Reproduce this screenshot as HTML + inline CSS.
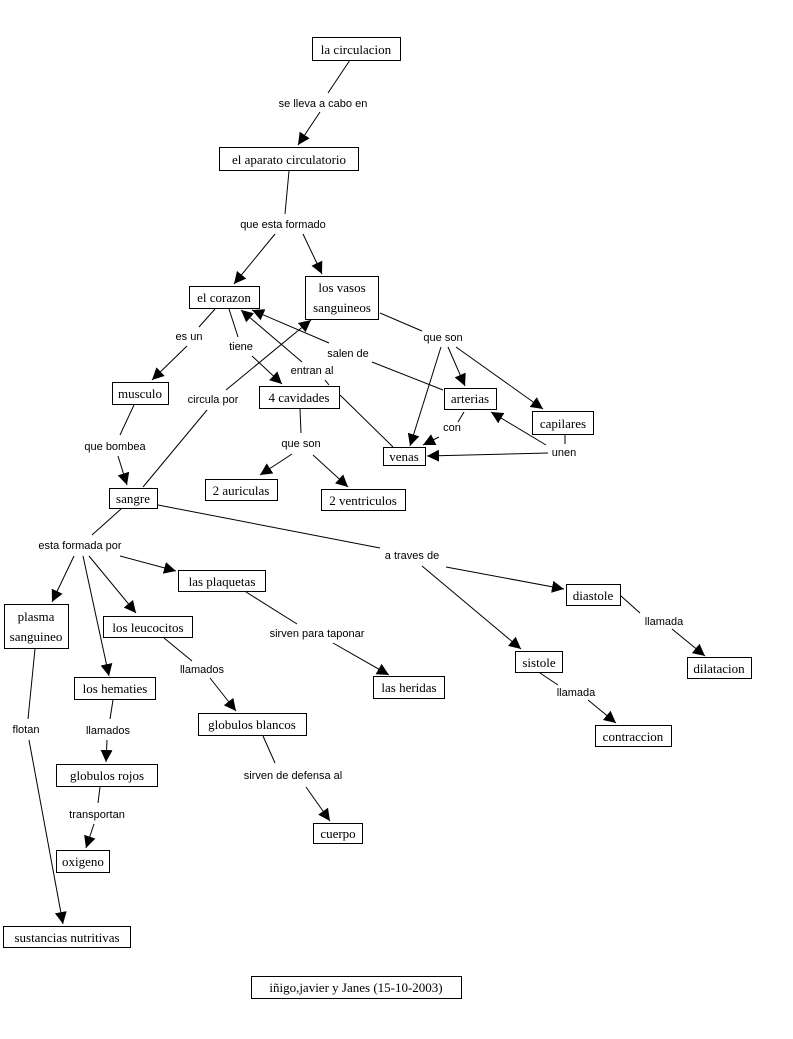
<!DOCTYPE html>
<html><head><meta charset="utf-8"><style>
html,body{margin:0;padding:0;background:#fff;}
svg{display:block;}
.b{fill:#fff;stroke:#000;stroke-width:1;}
.t{font-family:"Liberation Serif",serif;font-size:13px;fill:#000;}
.l{font-family:"Liberation Sans",sans-serif;font-size:11px;fill:#000;}
line{stroke:#000;stroke-width:1;}
</style></head><body>
<svg width="793" height="1039" viewBox="0 0 793 1039" xmlns="http://www.w3.org/2000/svg">
<defs><marker id="a" viewBox="0 0 10 10" refX="10" refY="5" markerWidth="12" markerHeight="12" markerUnits="userSpaceOnUse" orient="auto"><path d="M0,0L10,5L0,10z" fill="#000"/></marker></defs>
<g>
<line x1="350" y1="60" x2="328" y2="93"/><line x1="320" y1="112" x2="298" y2="145" marker-end="url(#a)"/>
<line x1="289" y1="171" x2="285" y2="214"/>
<line x1="275" y1="234" x2="234" y2="284" marker-end="url(#a)"/><line x1="303" y1="234" x2="322" y2="274" marker-end="url(#a)"/>
<line x1="215" y1="309" x2="199" y2="327"/><line x1="187" y1="346" x2="152" y2="380" marker-end="url(#a)"/>
<line x1="229" y1="309" x2="238" y2="337"/><line x1="252" y1="356" x2="282" y2="384" marker-end="url(#a)"/>
<line x1="143" y1="487" x2="207" y2="410"/><line x1="226" y1="390" x2="311" y2="320" marker-end="url(#a)"/>
<line x1="302" y1="362" x2="241" y2="310" marker-end="url(#a)"/><line x1="325" y1="380" x2="329" y2="385"/>
<line x1="340" y1="395" x2="393" y2="447"/>
<line x1="443" y1="390" x2="372" y2="362"/><line x1="329" y1="343" x2="252" y2="310" marker-end="url(#a)"/>
<line x1="380" y1="313" x2="422" y2="331"/>
<line x1="441" y1="347" x2="410" y2="446" marker-end="url(#a)"/><line x1="448" y1="347" x2="465" y2="386" marker-end="url(#a)"/><line x1="456" y1="347" x2="543" y2="409" marker-end="url(#a)"/>
<line x1="464" y1="412" x2="458" y2="422"/><line x1="439" y1="437" x2="423" y2="445" marker-end="url(#a)"/>
<line x1="565" y1="435" x2="565" y2="444"/><line x1="548" y1="453" x2="427" y2="456" marker-end="url(#a)"/><line x1="546" y1="445" x2="491" y2="412" marker-end="url(#a)"/>
<line x1="300" y1="409" x2="301" y2="433"/><line x1="292" y1="454" x2="260" y2="475" marker-end="url(#a)"/><line x1="313" y1="455" x2="348" y2="487" marker-end="url(#a)"/>
<line x1="134" y1="405" x2="120" y2="435"/><line x1="118" y1="456" x2="127" y2="485" marker-end="url(#a)"/>
<line x1="121" y1="509" x2="92" y2="535"/>
<line x1="74" y1="556" x2="52" y2="602" marker-end="url(#a)"/><line x1="83" y1="556" x2="109" y2="676" marker-end="url(#a)"/><line x1="89" y1="556" x2="136" y2="613" marker-end="url(#a)"/><line x1="120" y1="556" x2="176" y2="571" marker-end="url(#a)"/>
<line x1="158" y1="505" x2="380" y2="548"/><line x1="422" y1="566" x2="521" y2="649" marker-end="url(#a)"/><line x1="446" y1="567" x2="564" y2="589" marker-end="url(#a)"/>
<line x1="246" y1="592" x2="297" y2="624"/><line x1="333" y1="643" x2="389" y2="675" marker-end="url(#a)"/>
<line x1="164" y1="638" x2="192" y2="661"/><line x1="210" y1="678" x2="236" y2="711" marker-end="url(#a)"/>
<line x1="263" y1="736" x2="275" y2="763"/><line x1="306" y1="787" x2="330" y2="821" marker-end="url(#a)"/>
<line x1="113" y1="700" x2="110" y2="719"/><line x1="107" y1="740" x2="106" y2="762" marker-end="url(#a)"/>
<line x1="100" y1="787" x2="98" y2="803"/><line x1="94" y1="824" x2="86" y2="848" marker-end="url(#a)"/>
<line x1="35" y1="649" x2="28" y2="719"/><line x1="29" y1="740" x2="63" y2="924" marker-end="url(#a)"/>
<line x1="621" y1="596" x2="640" y2="613"/><line x1="672" y1="629" x2="705" y2="656" marker-end="url(#a)"/>
<line x1="540" y1="673" x2="558" y2="685"/><line x1="588" y1="700" x2="616" y2="723" marker-end="url(#a)"/>
</g>
<g>
<rect class="b" x="312.5" y="37.5" width="88" height="23"/><text class="t" x="356" y="54" text-anchor="middle">la circulacion</text>
<rect class="b" x="219.5" y="147.5" width="139" height="23"/><text class="t" x="289" y="164" text-anchor="middle">el aparato circulatorio</text>
<rect class="b" x="189.5" y="286.5" width="70" height="22"/><text class="t" x="224" y="302" text-anchor="middle">el corazon</text>
<rect class="b" x="305.5" y="276.5" width="73" height="43"/><text class="t" x="342" y="292" text-anchor="middle">los vasos</text><text class="t" x="342" y="312" text-anchor="middle">sanguineos</text>
<rect class="b" x="112.5" y="382.5" width="56" height="22"/><text class="t" x="140" y="398" text-anchor="middle">musculo</text>
<rect class="b" x="259.5" y="386.5" width="80" height="22"/><text class="t" x="299" y="402" text-anchor="middle">4 cavidades</text>
<rect class="b" x="444.5" y="388.5" width="52" height="21"/><text class="t" x="470" y="403" text-anchor="middle">arterias</text>
<rect class="b" x="532.5" y="411.5" width="61" height="23"/><text class="t" x="563" y="428" text-anchor="middle">capilares</text>
<rect class="b" x="383.5" y="447.5" width="42" height="18"/><text class="t" x="404" y="461" text-anchor="middle">venas</text>
<rect class="b" x="205.5" y="479.5" width="72" height="21"/><text class="t" x="241" y="495" text-anchor="middle">2 auriculas</text>
<rect class="b" x="321.5" y="489.5" width="84" height="21"/><text class="t" x="363" y="505" text-anchor="middle">2 ventriculos</text>
<rect class="b" x="109.5" y="488.5" width="48" height="20"/><text class="t" x="133" y="503" text-anchor="middle">sangre</text>
<rect class="b" x="4.5" y="604.5" width="64" height="44"/><text class="t" x="36" y="621" text-anchor="middle">plasma</text><text class="t" x="36" y="641" text-anchor="middle">sanguineo</text>
<rect class="b" x="103.5" y="616.5" width="89" height="21"/><text class="t" x="148" y="632" text-anchor="middle">los leucocitos</text>
<rect class="b" x="178.5" y="570.5" width="87" height="21"/><text class="t" x="222" y="586" text-anchor="middle">las plaquetas</text>
<rect class="b" x="74.5" y="677.5" width="81" height="22"/><text class="t" x="115" y="693" text-anchor="middle">los hematies</text>
<rect class="b" x="198.5" y="713.5" width="108" height="22"/><text class="t" x="252" y="729" text-anchor="middle">globulos blancos</text>
<rect class="b" x="373.5" y="676.5" width="71" height="22"/><text class="t" x="409" y="692" text-anchor="middle">las heridas</text>
<rect class="b" x="515.5" y="651.5" width="47" height="21"/><text class="t" x="539" y="667" text-anchor="middle">sistole</text>
<rect class="b" x="566.5" y="584.5" width="54" height="21"/><text class="t" x="593" y="600" text-anchor="middle">diastole</text>
<rect class="b" x="687.5" y="657.5" width="64" height="21"/><text class="t" x="719" y="673" text-anchor="middle">dilatacion</text>
<rect class="b" x="595.5" y="725.5" width="76" height="21"/><text class="t" x="633" y="741" text-anchor="middle">contraccion</text>
<rect class="b" x="56.5" y="764.5" width="101" height="22"/><text class="t" x="107" y="780" text-anchor="middle">globulos rojos</text>
<rect class="b" x="313.5" y="823.5" width="49" height="20"/><text class="t" x="338" y="838" text-anchor="middle">cuerpo</text>
<rect class="b" x="56.5" y="850.5" width="53" height="22"/><text class="t" x="83" y="866" text-anchor="middle">oxigeno</text>
<rect class="b" x="3.5" y="926.5" width="127" height="21"/><text class="t" x="67" y="942" text-anchor="middle">sustancias nutritivas</text>
<rect class="b" x="251.5" y="976.5" width="210" height="22"/><text class="t" x="356" y="992" text-anchor="middle">iñigo,javier y Janes (15-10-2003)</text>
</g>
<g class="l" text-anchor="middle">
<text class="l" x="323" y="107">se lleva a cabo en</text>
<text class="l" x="283" y="228">que esta formado</text>
<text class="l" x="189" y="340">es un</text>
<text class="l" x="241" y="350">tiene</text>
<text class="l" x="213" y="403">circula por</text>
<text class="l" x="312" y="374">entran al</text>
<text class="l" x="348" y="357">salen de</text>
<text class="l" x="443" y="341">que son</text>
<text class="l" x="452" y="431">con</text>
<text class="l" x="564" y="456">unen</text>
<text class="l" x="301" y="447">que son</text>
<text class="l" x="115" y="450">que bombea</text>
<text class="l" x="80" y="549">esta formada por</text>
<text class="l" x="412" y="559">a traves de</text>
<text class="l" x="317" y="637">sirven para taponar</text>
<text class="l" x="202" y="673">llamados</text>
<text class="l" x="664" y="625">llamada</text>
<text class="l" x="576" y="696">llamada</text>
<text class="l" x="108" y="734">llamados</text>
<text class="l" x="26" y="733">flotan</text>
<text class="l" x="293" y="779">sirven de defensa al</text>
<text class="l" x="97" y="818">transportan</text>
</g>
</svg>
</body></html>
